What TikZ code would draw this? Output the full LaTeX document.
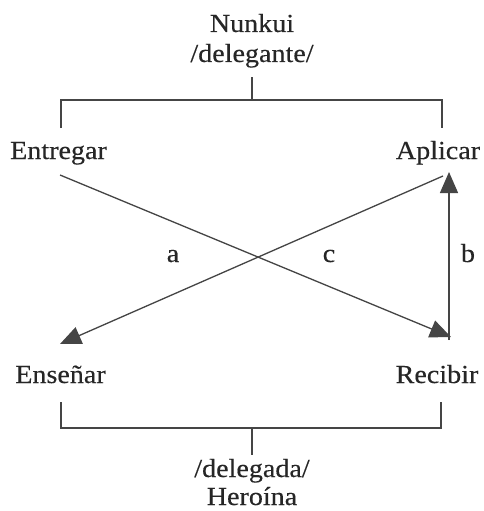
\documentclass[tikz,border=0pt]{standalone}
\usepackage{fontspec}
\setmainfont[FakeStretch=1.08,FakeBold=0.3]{Liberation Serif}
\usetikzlibrary{arrows.meta}
\definecolor{txt}{HTML}{262626}
\definecolor{lncol}{HTML}{454545}
\begin{document}
\begin{tikzpicture}[x=1pt,y=-1pt,
  lbl/.style={font=\fontsize{26}{30}\selectfont, text=txt, inner sep=0pt, anchor=base},
  ln/.style={draw=lncol, line width=1.3pt},
  arr/.style={ln, -{Triangle[length=21pt,width=18pt]}, fill=lncol}]
\fill[white] (0,0) rectangle (483,511);
\useasboundingbox (0,0) rectangle (483,511);
% texts
\node[lbl] (nunkui) at (252,32) {Nunkui};
\node[lbl] (delegante) at (252,62) {/delegante/};
\node[lbl] (entregar) at (58.5,159) {Entregar};
\node[lbl] (aplicar) at (438,159) {Aplicar};
\node[lbl] (ensenar) at (60.5,383) {Enseñar};
\node[lbl] (recibir) at (437,383) {Recibir};
\node[lbl] (delegada) at (252,477) {/delegada/};
\node[lbl] (heroina) at (252,505) {Heroína};
\node[lbl] (la) at (173,262) {a};
\node[lbl] (lc) at (329,262) {c};
\node[lbl] (lb) at (468,262) {b};
% top bracket
\coordinate (tstem) at (252,77);
\coordinate (tbar) at (252,100);
\coordinate (tl) at (61,128);
\coordinate (tr) at (442,128);
\draw[ln] (tstem) -- (tbar);
\draw[ln] (tl) |- (tr |- tbar) -- (tr);
% bottom bracket
\coordinate (bl) at (61,402);
\coordinate (br) at (441,402);
\coordinate (bbar) at (252,428);
\coordinate (bstem) at (252,455);
\draw[ln] (bl) |- (br |- bbar) -- (br);
\draw[ln] (bbar) -- (bstem);
% arrows
\coordinate (cS) at (60,175);
\coordinate (cE) at (451,337);
\coordinate (aS) at (443,176);
\coordinate (aE) at (60,344);
\coordinate (bS) at (449,340);
\coordinate (bE) at (449,172);
\draw[arr] (cS) -- (cE);
\draw[arr] (aS) -- (aE);
\draw[arr] (bS) -- (bE);
\end{tikzpicture}
\end{document}
